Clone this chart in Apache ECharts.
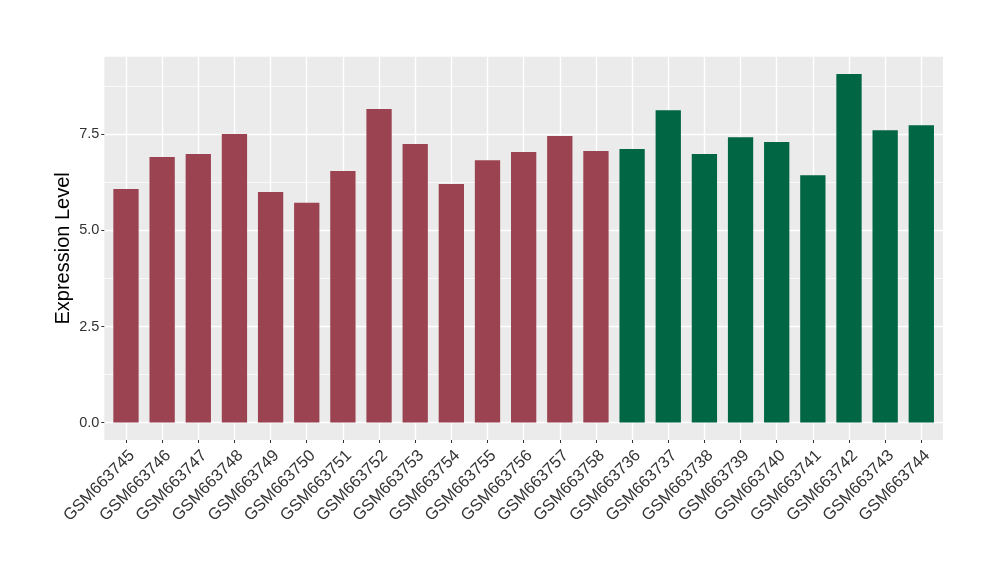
<!DOCTYPE html>
<html>
<head>
<meta charset="utf-8">
<script src="https://cdn.jsdelivr.net/npm/echarts@6/dist/echarts.min.js"></script>
<style>html,body{margin:0;padding:0;background:#fff}#chart{width:1000px;height:580px}</style>
</head>
<body>
<div id="chart"></div>
<script>
const categoriesA = ["GSM663745","GSM663746","GSM663747","GSM663748","GSM663749","GSM663750","GSM663751","GSM663752","GSM663753","GSM663754","GSM663755","GSM663756","GSM663757","GSM663758"];
const valuesA = [6.08, 6.91, 6.99, 7.51, 6.00, 5.72, 6.55, 8.16, 7.25, 6.21, 6.83, 7.04, 7.46, 7.07];
const categoriesB = ["GSM663736","GSM663737","GSM663738","GSM663739","GSM663740","GSM663741","GSM663742","GSM663743","GSM663744"];
const valuesB = [7.12, 8.13, 6.99, 7.43, 7.30, 6.44, 9.07, 7.61, 7.74];
const yTicks = [0, 2.5, 5, 7.5];
const yMinorTicks = [1.25, 3.75, 6.25, 8.75];

const categories = categoriesA.concat(categoriesB);
const allValues = valuesA.concat(valuesB);
const yMax = Math.max(...allValues);
const pad = yMax * 0.05;
const xIdx = categories.map((c, i) => i);

const dataA = valuesA.map((v, i) => [i, v]);
const dataB = valuesB.map((v, j) => [categoriesA.length + j, v]);

const chart = echarts.init(document.getElementById('chart'), null, {renderer: 'canvas'});
chart.setOption({
  animation: false,
  backgroundColor: '#ffffff',
  grid: {left: 104.3, right: 57, top: 56.7, bottom: 140, show: true, backgroundColor: '#EBEBEB', borderWidth: 0, containLabel: false},
  xAxis: {
    type: 'value', min: -0.6, max: categories.length - 1 + 0.6,
    axisLine: {show: false, onZero: false},
    axisTick: {show: true, inside: false, customValues: xIdx, length: 3, lineStyle: {color: '#333333', width: 1}},
    axisLabel: {customValues: xIdx, rotate: 45, margin: 7, fontSize: 16.5, color: '#333333', fontFamily: 'Liberation Sans',
      align: 'right', verticalAlign: 'top', padding: [0, 0, 0, 0],
      formatter: v => categories[Math.round(v)]},
    splitLine: {show: true, lineStyle: {color: '#FFFFFF', width: 1.4}}
  },
  yAxis: [{
    type: 'value', min: -pad, max: yMax + pad,
    name: 'Expression Level', nameLocation: 'middle', nameGap: 31, nameRotate: 90, nameMoveOverlap: false,
    nameTextStyle: {fontSize: 20, color: '#000000', fontFamily: 'Liberation Sans'},
    axisLine: {show: false, onZero: false},
    axisTick: {show: true, inside: false, customValues: yTicks, length: 3, lineStyle: {color: '#333333', width: 1}},
    axisLabel: {customValues: yTicks, margin: 5, fontSize: 14.5, color: '#333333', fontFamily: 'Liberation Sans',
      formatter: v => v.toFixed(1)},
    splitLine: {show: true, lineStyle: {color: '#FFFFFF', width: 1.4}}
  }, {
    type: 'value', min: -pad, max: yMax + pad, position: 'left',
    axisLine: {show: false, onZero: false},
    axisTick: {show: false, customValues: yMinorTicks},
    axisLabel: {show: false, customValues: yMinorTicks},
    splitLine: {show: true, lineStyle: {color: '#FFFFFF', width: 0.7}}
  }],
  series: [{
    type: 'bar', data: dataA, stack: 'g', barWidth: 25.3, itemStyle: {color: '#9B4351'}
  }, {
    type: 'bar', data: dataB, stack: 'g', barWidth: 25.3, itemStyle: {color: '#006644'}
  }]
});
</script>
</body>
</html>
